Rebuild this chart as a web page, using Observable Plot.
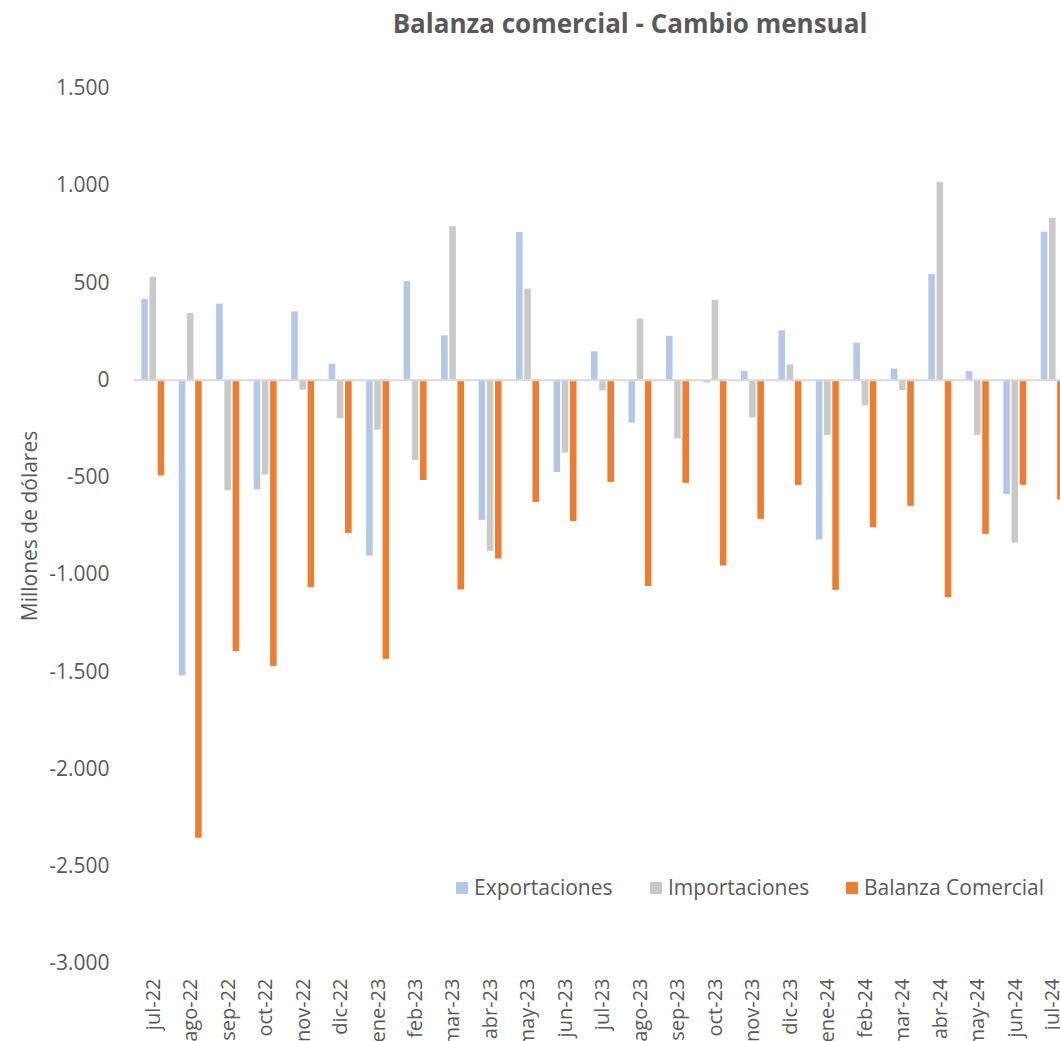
<!DOCTYPE html>
<html>
<head>
<meta charset="utf-8">
<script src="https://cdn.jsdelivr.net/npm/d3@7"></script>
<script src="https://cdn.jsdelivr.net/npm/@observablehq/plot@0.6"></script>
<style>
  html, body { margin: 0; padding: 0; background: #fff; overflow: hidden; width: 1060px; height: 1041px; }
  #wrap { position: relative; width: 1060px; height: 1041px; overflow: hidden; }
  #title { position: absolute; top: 5px; left: 0; width: 1260px; text-align: center; font-family: "Open Sans", sans-serif; font-weight: bold; font-size: 26px; color: #595959; }
  #chart { position: absolute; top: 0; left: 0; width: 1075px; }
  #chart svg { max-width: none !important; }
  #legend { position: absolute; top: 873px; left: 456px; font-family: "Open Sans", sans-serif; font-size: 21px; color: #595959; white-space: nowrap; }
  #legend span.item { position: absolute; top: 0; white-space: nowrap; }
  #legend span.sw { display: inline-block; width: 12px; height: 12px; margin-right: 6px; vertical-align: 1px; }
</style>
</head>
<body>
<div id="wrap">
  <div id="chart"></div>
  <div id="title">Balanza comercial - Cambio mensual</div>
  <div id="legend"></div>
</div>
<script>
const months = ["jul-22","ago-22","sep-22","oct-22","nov-22","dic-22","ene-23","feb-23","mar-23","abr-23","may-23","jun-23","jul-23","ago-23","sep-23","oct-23","nov-23","dic-23","ene-24","feb-24","mar-24","abr-24","may-24","jun-24","jul-24"];
const exportaciones = [416, -1520, 391, -564, 351, 82, -905, 507, 228, -721, 759, -475, 146, -221, 226, -14, 45, 254, -822, 190, 57, 543, 45, -589, 761];
const importaciones = [529, 343, -569, -488, -51, -197, -257, -413, 790, -881, 468, -375, -55, 314, -302, 410, -194, 79, -284, -132, -53, 1016, -284, -838, 833];
const balanza = [-492, -2356, -1396, -1472, -1067, -788, -1436, -516, -1079, -920, -629, -727, -526, -1061, -531, -956, -716, -541, -1081, -759, -649, -1119, -793, -541, -617];
const series = ["Exportaciones", "Importaciones", "Balanza Comercial"];
const colors = ["#b4c7e7", "#c9c9c9", "#ed7d31"];
const yTicks = [1500, 1000, 500, 0, -500, -1000, -1500, -2000, -2500, -3000];

const seriesValues = [exportaciones, importaciones, balanza];
const data = months.flatMap((m, i) => series.map((s, k) => ({month: m, serie: s, value: seriesValues[k][i]})));

const locale = d3.formatLocale({decimal: ",", thousands: ".", grouping: [3], currency: ["", ""], minus: "-"});
const fmt = locale.format(",d");

const chart = Plot.plot({
  width: 1075,
  height: 1041,
  marginLeft: 134,
  marginRight: 4,
  marginTop: 88,
  marginBottom: 78,
  style: {fontFamily: "'Open Sans', sans-serif", fontSize: "18px", color: "#595959", background: "transparent", maxWidth: "none"},
  fx: {domain: months, padding: 0, round: false, label: null},
  x: {domain: series, paddingInner: 0.2, paddingOuter: 0.885, round: false, axis: null},
  y: {domain: [-3000, 1500], label: "Millones de dólares"},
  color: {domain: series, range: colors},
  marks: [
    Plot.axisFx({anchor: "bottom", tickRotate: -90, tickSize: 0, tickPadding: 15, fontSize: 20, label: null, fill: "#595959"}),
    Plot.axisY({ticks: yTicks, tickFormat: fmt, tickSize: 0, tickPadding: 25, fontSize: 21, fill: "#595959",
      label: "Millones de dólares", labelAnchor: "center", labelArrow: "none", labelOffset: 112}),
    Plot.barY(data, {fx: "month", x: "serie", y: "value", fill: "serie"}),
    Plot.ruleY([0], {stroke: "#d9d9d9", strokeWidth: 2})
  ]
});
document.getElementById("chart").appendChild(chart);

const legend = document.getElementById("legend");
const offsets = [0, 194, 390];
series.forEach((s, k) => {
  const item = document.createElement("span");
  item.className = "item";
  item.style.left = offsets[k] + "px";
  item.innerHTML = `<span class="sw" style="background:${colors[k]}"></span>${s}`;
  legend.appendChild(item);
});
</script>
</body>
</html>
